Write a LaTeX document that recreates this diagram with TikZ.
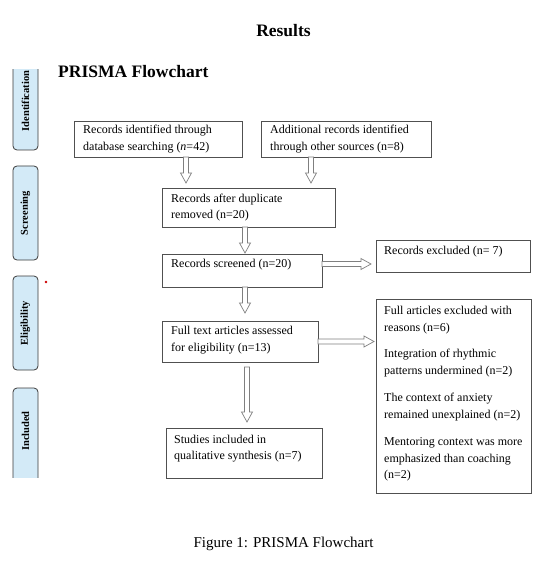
\documentclass[tikz,border=0pt]{standalone}
\usepackage{fontspec}
\setmainfont{Liberation Serif}
\usetikzlibrary{calc}
\definecolor{boxgray}{HTML}{505050}
\definecolor{arrgray}{HTML}{7F7F7F}
\definecolor{sideblue}{HTML}{D3EAF7}
\definecolor{sideedge}{HTML}{3A3A3A}
\tikzset{
  box/.style={draw=boxgray, line width=0.8pt, inner sep=0pt, outer sep=0pt, fill=white},
  txt/.style={inner sep=0pt, align=left, font=\fontsize{12}{16.5}\selectfont, anchor=west},
  sidebox/.style={draw=sideedge, fill=sideblue, line width=0.8pt, rounded corners=4pt, inner sep=0pt, minimum width=25pt},
  sidelbl/.style={font=\fontsize{10.5}{12}\selectfont\bfseries, rotate=90, inner sep=0pt},
  blockarr/.style={draw=arrgray, line width=0.7pt, fill=white, line join=miter},
}
% vertical block arrow: #1 start point, #2 point whose y is the tip
\newcommand\varr[2]{%
  \draw[blockarr] let \p1=#1, \p2=#2 in
    (\x1-2.5pt,\y1) -- (\x1-2.5pt,\y2+10pt) -- (\x1-5.5pt,\y2+10pt) -- (\x1,\y2)
    -- (\x1+5.5pt,\y2+10pt) -- (\x1+2.5pt,\y2+10pt) -- (\x1+2.5pt,\y1) -- cycle;}
% horizontal block arrow: #1 start point, #2 point whose x is the tip
\newcommand\harr[2]{%
  \draw[blockarr] let \p1=#1, \p2=#2 in
    (\x1,\y1+2.5pt) -- (\x2-10pt,\y1+2.5pt) -- (\x2-10pt,\y1+5.5pt) -- (\x2,\y1)
    -- (\x2-10pt,\y1-5.5pt) -- (\x2-10pt,\y1-2.5pt) -- (\x1,\y1-2.5pt) -- cycle;}
\begin{document}
\begin{tikzpicture}[x=1pt,y=-1pt]
\path[use as bounding box] (0,0) rectangle (551,577);

% titles
\node[font=\fontsize{17.5}{20}\selectfont\bfseries, inner sep=0pt] (title) at (283.5,31) {Results};
\node[font=\fontsize{17.5}{20}\selectfont\bfseries, inner sep=0pt, anchor=west] (sub) at (58,72) {PRISMA Flowchart};
\node[font=\fontsize{15}{18}\selectfont, inner sep=0pt] (cap) at (283.5,544) {Figure 1: PRISMA Flowchart};

% side stage labels
\begin{scope}
\clip (0,70) rectangle (60,477);
\node[sidebox, minimum height=95pt] (sid) at (25.5,102.5) {};
\node[sidebox, minimum height=94pt] (sscr) at (25.5,213) {};
\node[sidebox, minimum height=94pt] (selig) at (25.5,323) {};
\node[sidebox, minimum height=102pt] (sinc) at (25.5,439) {};
\end{scope}
\node[sidelbl] (lid) at (25.5,101) {Identification};
\node[sidelbl] (lscr) at (25.5,213) {Screening};
\node[sidelbl] (lelig) at (25.5,323) {Eligibility};
\node[sidelbl] (linc) at (25.5,431) {Included};
\fill[red!80!black] (46,282) circle (1.4pt);

% boxes
\node[box, minimum width=168pt, minimum height=36pt] (b1) at (158,139) {};
\node[box, minimum width=170pt, minimum height=36pt] (b2) at (346,139) {};
\node[box, minimum width=173pt, minimum height=39pt] (b3) at (248.5,207.5) {};
\node[box, minimum width=160pt, minimum height=33pt] (b4) at (242,270.5) {};
\node[box, minimum width=154pt, minimum height=32pt] (b5) at (453,256) {};
\node[box, minimum width=156pt, minimum height=41pt] (b6) at (240,341.5) {};
\node[box, minimum width=155pt, minimum height=194pt] (b7) at (453.5,396) {};
\node[box, minimum width=156pt, minimum height=50pt] (b8) at (244,453) {};

% texts
\node[txt] (t1) at ([xshift=9pt]b1.west) {Records identified through\\database searching (\textit{n}=42)};
\node[txt] (t2) at ([xshift=9pt]b2.west) {Additional records identified\\through other sources (n=8)};
\node[txt] (t3) at ([xshift=9pt]b3.west) {Records after duplicate\\removed (n=20)};
\node[txt] (t4) at ([xshift=9pt,yshift=5.5pt]b4.west) {Records screened (n=20)};
\node[txt] (t5) at ([xshift=8pt,yshift=4pt]b5.west) {Records excluded (n= 7)};
\node[txt] (t6) at ([xshift=9pt,yshift=1.5pt]b6.west) {Full text articles assessed\\for eligibility (n=13)};
\node[txt] (t8) at ([xshift=8pt,yshift=4.5pt]b8.west) {Studies included in\\qualitative synthesis (n=7)};
\node[txt, anchor=north west] (t7) at ([xshift=8pt,yshift=-7pt]b7.north west) {Full articles excluded with\\reasons (n=6)\\[10pt]Integration of rhythmic\\patterns undermined (n=2)\\[11pt]The context of anxiety\\remained unexplained (n=2)\\[11pt]Mentoring context was more\\emphasized than coaching\\(n=2)};

% arrows
\varr{([xshift=28pt]b1.south)}{([yshift=5pt]b3.north)}
\varr{([xshift=-35pt]b2.south)}{([yshift=5pt]b3.north)}
\varr{([xshift=-3.5pt]b3.south)}{([yshift=1pt]b4.north)}
\varr{([xshift=3pt]b4.south)}{([yshift=8pt]b6.north)}
\varr{([xshift=7pt,yshift=-5pt]b6.south)}{([yshift=6pt]b8.north)}
\harr{([yshift=6.5pt]b4.east)}{([xshift=-5pt]b5.west)}
\harr{(b6.east)}{([xshift=-2pt]b7.west)}
\end{tikzpicture}
\end{document}
